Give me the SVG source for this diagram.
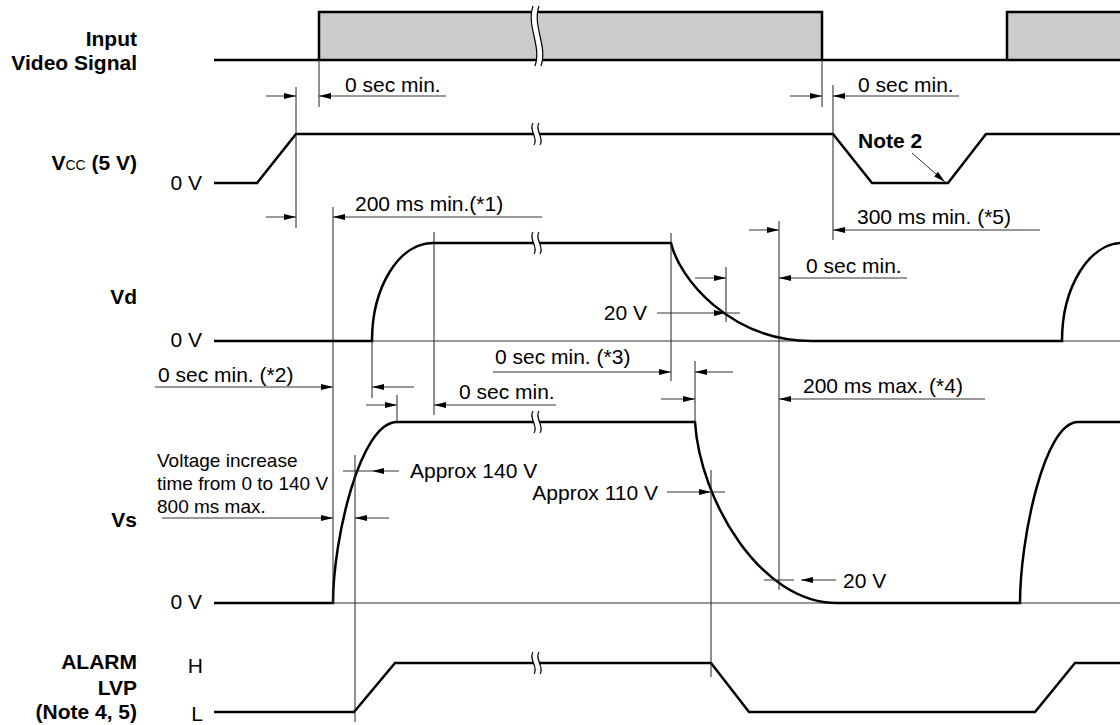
<svg xmlns="http://www.w3.org/2000/svg" xmlns:xlink="http://www.w3.org/1999/xlink" width="1120" height="725" viewBox="0 0 1120 725">
<defs>
<style>
.sig{fill:none;stroke:#000;stroke-width:2.5;stroke-linejoin:miter}
.ref{fill:none;stroke:#333;stroke-width:1}
.thin{fill:none;stroke:#222;stroke-width:1}
.dim{fill:none;stroke:#333;stroke-width:1}
.arr{marker-end:url(#ah)}
.lbl{font-family:"Liberation Sans",Arial,Helvetica,sans-serif;font-size:21px;font-weight:bold;text-anchor:end;fill:#000}
.t{font-family:"Liberation Sans",Arial,Helvetica,sans-serif;font-size:21px;fill:#000}
.ts{font-size:19px}
.e{text-anchor:end}
.b{font-weight:bold}
.brk{fill:#fff;stroke:none}
.brl{fill:none;stroke:#000;stroke-width:1.2}
</style>
<marker id="ah" markerUnits="userSpaceOnUse" markerWidth="12" markerHeight="6" refX="12" refY="3" orient="auto"><path d="M0,0 L12,3 L0,6 z" fill="#000"/></marker>
<g id="bk"><path class="brk" d="M-4,-11 C-9,-4 2,4 -3,11 L3,11 C8,4 -3,-4 2,-11 Z"/><path class="brl" d="M-4,-11 C-9,-4 2,4 -3,11 M2,-11 C-3,-4 8,4 3,11"/></g>
<g id="bkt"><path class="brk" d="M-4,-30 C-11,-10 5,10 -2,30 L4,30 C11,10 -5,-10 2,-30 Z"/><path class="brl" d="M-4,-30 C-11,-10 5,10 -2,30 M2,-30 C-5,-10 11,10 4,30"/></g>
</defs>
<rect width="1120" height="725" fill="#fff"/>

<g id="labels">
<text class="lbl" x="137" y="46">Input</text>
<text class="lbl" x="137" y="70">Video Signal</text>
<text class="lbl" x="137" y="170">V<tspan font-size="14" font-weight="normal">CC</tspan> (5 V)</text>
<text class="lbl" x="137" y="304">Vd</text>
<text class="lbl" x="137" y="527">Vs</text>
<text class="lbl" x="137" y="669">ALARM</text>
<text class="lbl" x="137" y="695">LVP</text>
<text class="lbl" x="137" y="719">(Note 4, 5)</text>
<text class="t e" x="202" y="190">0 V</text>
<text class="t e" x="202" y="347">0 V</text>
<text class="t e" x="202" y="609">0 V</text>
<text class="t e" x="203" y="673">H</text>
<text class="t e" x="203" y="721">L</text>
</g>

<g id="input-video-signal">
<rect x="319" y="12" width="503" height="48" fill="#ccc"/>
<rect x="1007" y="12" width="115" height="48" fill="#ccc"/>
<path class="sig" d="M214,60 H1122 M319,60 V12 H822 V60 M1007,60 V12 H1122"/>
<use xlink:href="#bkt" x="537" y="36"/>
</g>

<g id="vcc">
<path class="sig" d="M214,183 H257 L296,134 H833 L872,183 H948 L986,134 H1122"/>
<use xlink:href="#bk" x="537" y="134"/>
</g>

<g id="vd">
<path class="ref" d="M214,341 H1120"/>
<path class="sig" d="M214,341 H372 C372,287 399,243 433,243 H671 C679,278 730,341 812,341 H1062 C1062,287 1089,243 1123,243"/>
<use xlink:href="#bk" x="537" y="243"/>
</g>

<g id="vs">
<path class="ref" d="M214,603 H1120"/>
<path class="sig" d="M214,603 H333 C333,540 360,422 397,422 H695 C700,500 760,603 837,603 H1020 C1020,540 1044,422 1078,422 H1122"/>
<use xlink:href="#bk" x="537" y="422"/>
</g>

<g id="alarm-lvp">
<path class="sig" d="M214,712 H354 L395,663 H711 L749,712 H1035 L1075,663 H1122"/>
<use xlink:href="#bk" x="537" y="663"/>
</g>

<g id="connectors">
<path class="thin" d="M319,60 V107 M296,87 V228 M822,60 V107 M833,85 V240 M333,207 V603 M372,341 V398 M434,232 V415 M397,395 V422 M671,233 V381 M695,361 V422 M726,267 V322 M779,221 V590 M355,455 V722 M711,470 V677"/>
<path class="dim arr" d="M266,96 H296"/>
<path class="dim arr" d="M446,96 H319"/>
<path class="dim arr" d="M790,96 H822"/>
<path class="dim arr" d="M959,96 H833"/>
<path class="dim arr" d="M266,217 H296"/>
<path class="dim arr" d="M542,217 H333"/>
<path class="dim arr" d="M749,230 H779"/>
<path class="dim arr" d="M1040,230 H833"/>
<path class="dim arr" d="M695,278 H726"/>
<path class="dim arr" d="M907,278 H779"/>
<path class="dim arr" d="M657,313 H726"/>
<path class="dim" d="M726,313 H740"/>
<path class="dim arr" d="M493,372 H671"/>
<path class="dim arr" d="M733,372 H695"/>
<path class="dim arr" d="M155,387 H333"/>
<path class="dim arr" d="M414,387 H372"/>
<path class="dim arr" d="M661,399 H695"/>
<path class="dim arr" d="M985,399 H779"/>
<path class="dim arr" d="M366,405 H397"/>
<path class="dim arr" d="M556,405 H434"/>
<path class="dim" d="M343,471 H372"/>
<path class="dim arr" d="M399,471 H372"/>
<path class="dim arr" d="M162,518 H333"/>
<path class="dim arr" d="M389,518 H355"/>
<path class="dim arr" d="M667,492 H711"/>
<path class="dim" d="M711,492 H725"/>
<path class="dim" d="M764,580 H794"/>
<path class="dim arr" d="M836,580 H801"/>
<path class="dim arr" d="M912,153 L945,182"/>
</g>

<g id="dimension-labels">
<text class="t" x="345" y="92">0 sec min.</text>
<text class="t" x="858" y="92">0 sec min.</text>
<text class="t b" x="858" y="148">Note 2</text>
<text class="t" x="355" y="211">200 ms min.(*1)</text>
<text class="t" x="857" y="224">300 ms min. (*5)</text>
<text class="t" x="806" y="273">0 sec min.</text>
<text class="t e" x="647" y="320">20 V</text>
<text class="t" x="495" y="364">0 sec min. (*3)</text>
<text class="t" x="158" y="382">0 sec min. (*2)</text>
<text class="t" x="459" y="399">0 sec min.</text>
<text class="t" x="803" y="393">200 ms max. (*4)</text>
<text class="t" x="410" y="478">Approx 140 V</text>
<text class="t e" x="658" y="500">Approx 110 V</text>
<text class="t ts" x="157" y="467">Voltage increase</text>
<text class="t ts" x="157" y="490">time from 0 to 140 V</text>
<text class="t ts" x="157" y="513">800 ms max.</text>
<text class="t" x="843" y="588">20 V</text>
</g>
</svg>
